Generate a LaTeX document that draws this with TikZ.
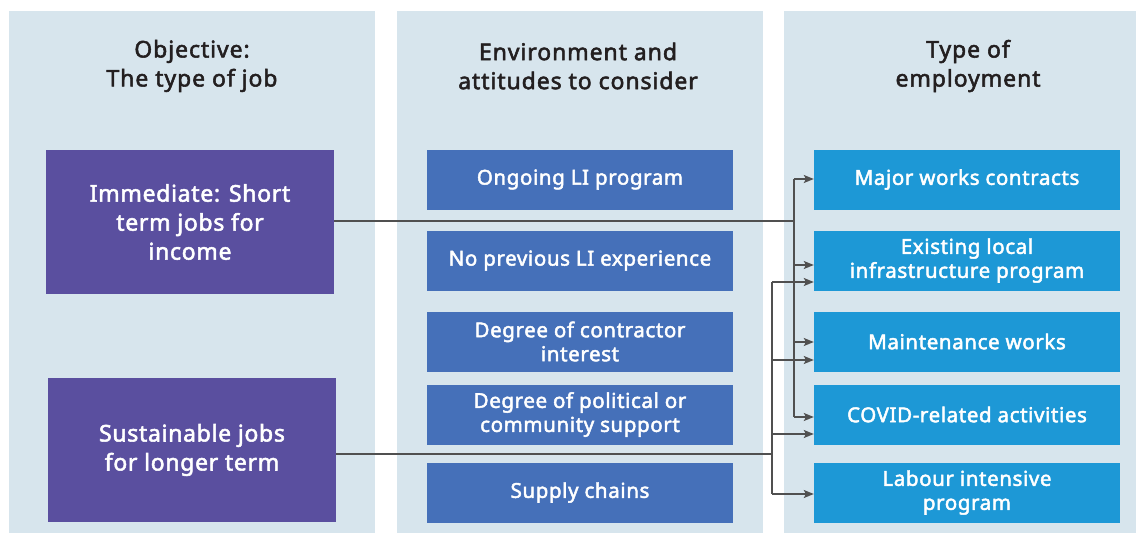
\documentclass[tikz,border=0pt]{standalone}
\usepackage{fontspec}
\setmainfont{Noto Sans}
\newfontfamily\semib{Noto Sans}[FakeBold=2.3, LetterSpace=3]
\newfontfamily\semibh{Noto Sans}[FakeBold=2.3, LetterSpace=4]
\usetikzlibrary{arrows.meta}
\definecolor{panelbg}{HTML}{D7E5ED}
\definecolor{objpurple}{HTML}{5A4F9F}
\definecolor{envblue}{HTML}{4570B9}
\definecolor{typeblue}{HTML}{1D98D6}
\definecolor{headtxt}{HTML}{231F20}
\definecolor{linegray}{HTML}{505050}
\begin{document}
\begin{tikzpicture}[x=1pt,y=-1pt,
  panel/.style={fill=panelbg, draw=none},
  header/.style={text=headtxt, align=center, font=\semibh\fontsize{23}{29}\selectfont},
  objbox/.style={fill=objpurple, text=white, align=center, minimum width=288pt, minimum height=144pt, inner sep=0pt, font=\semib\fontsize{23}{29}\selectfont},
  envbox/.style={fill=envblue, text=white, align=center, minimum width=306pt, minimum height=60pt, inner sep=0pt, font=\semib\fontsize{20.5}{24}\selectfont},
  typebox/.style={fill=typeblue, text=white, align=center, minimum width=306pt, minimum height=60pt, inner sep=0pt, font=\semib\fontsize{20.5}{24}\selectfont},
  conn/.style={draw=linegray, line width=1.3pt},
  arr/.style={conn, -{Stealth[length=10pt,width=8pt,inset=2pt]}}
]
\useasboundingbox (0,0) rectangle (1136,533);
% panels
\fill[panel] (9,11) rectangle (375,533);
\fill[panel] (397,11) rectangle (763,533);
\fill[panel] (784,11) rectangle (1136,533);
% headers
\node[header] (h1) at (192,66) {Objective:\\The type of job};
\node[header] (h2) at (578,66) {Environment and\\attitudes to consider};
\node[header] (h3) at (968,66) {Type of\\employment};
% objective boxes
\node[objbox] (o1) at (190,222) {Immediate: Short\\term jobs for\\income};
\node[objbox] (o2) at (192,450) {Sustainable jobs\\for longer term};
% environment boxes
\node[envbox] (e1) at (580,179.5) {Ongoing LI program};
\node[envbox] (e2) at (580,260.5) {No previous LI experience};
\node[envbox] (e3) at (580,341.5) {Degree of contractor\\interest};
\node[envbox] (e4) at (580,414.5) {Degree of political or\\community support};
\node[envbox] (e5) at (580,492.5) {Supply chains};
% type boxes
\node[typebox] (t1) at (967,179.5) {Major works contracts};
\node[typebox] (t2) at (967,260.5) {Existing local\\infrastructure program};
\node[typebox] (t3) at (967,341.5) {Maintenance works};
\node[typebox] (t4) at (967,414.5) {COVID-related activities};
\node[typebox] (t5) at (967,492.5) {Labour intensive\\program};
% trunk coordinates
\coordinate (j1) at (794,221);
\coordinate (j2) at (772,454);
% connectors from immediate
\draw[conn] (o1.east |- j1) -- (j1);
\draw[conn] (794,179) -- (794,417);
\draw[arr] (794,179) -- (t1.west |- 0,179);
\draw[arr] (794,265) -- (t2.west |- 0,265);
\draw[arr] (794,342) -- (t3.west |- 0,342);
\draw[arr] (794,417) -- (t4.west |- 0,417);
% connectors from sustainable
\draw[conn] (o2.east |- j2) -- (j2);
\draw[conn] (772,282) -- (772,494);
\draw[arr] (772,282) -- (t2.west |- 0,282);
\draw[arr] (772,360) -- (t3.west |- 0,360);
\draw[arr] (772,434) -- (t4.west |- 0,434);
\draw[arr] (772,494) -- (t5.west |- 0,494);
\end{tikzpicture}
\end{document}
